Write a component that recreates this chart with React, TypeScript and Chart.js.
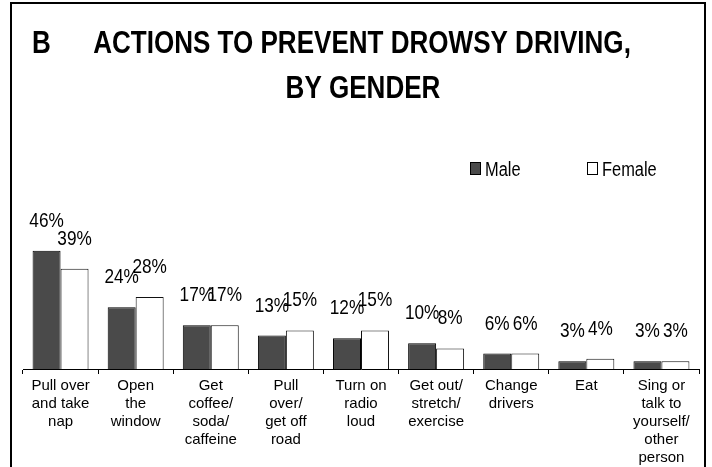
import React, { useEffect, useRef } from "react";
import { Chart, registerables } from "chart.js";

Chart.register(...registerables);

const categories: string[][] = [
  ["Pull over", "and take", "nap"],
  ["Open", "the", "window"],
  ["Get", "coffee/", "soda/", "caffeine"],
  ["Pull", "over/", "get off", "road"],
  ["Turn on", "radio", "loud"],
  ["Get out/", "stretch/", "exercise"],
  ["Change", "drivers"],
  ["Eat"],
  ["Sing or", "talk to", "yourself/", "other", "person"],
];
const maleValues = [46, 24, 17, 13, 12, 10, 6, 3, 3];
const femaleValues = [39, 28, 17, 15, 15, 8, 6, 4, 3];
const seriesNames = ["Male", "Female"];
const titleLines = ["ACTIONS TO PREVENT DROWSY DRIVING,", "BY GENDER"];
const panelLetter = "B";

const SANS = '"Liberation Sans", Arial, sans-serif';
const NARROW_X = 0.82;

function narrowText(ctx: any, text: string, x: number, y: number, align: string, sx: number = NARROW_X) {
  ctx.save();
  ctx.translate(x, y);
  ctx.scale(sx, 1);
  ctx.textAlign = align;
  ctx.textBaseline = "alphabetic";
  ctx.fillText(text, 0, 0);
  ctx.restore();
}

const decorPlugin = {
  id: "decor",
  afterDraw(chart: any) {
    const ctx = chart.ctx;
    ctx.save();
    // frame
    ctx.strokeStyle = "#000";
    ctx.lineWidth = 2;
    ctx.strokeRect(11, 3, 694, 480);
    // title and panel letter
    ctx.fillStyle = "#000";
    ctx.font = `bold 31px ${SANS}`;
    narrowText(ctx, panelLetter, 32, 53, "left", 0.84);
    narrowText(ctx, titleLines[0], 362, 53, "center", 0.84);
    narrowText(ctx, titleLines[1], 363, 98, "center", 0.84);
    // legend
    const items = [
      { x: 470, text: seriesNames[0], fill: "#4a4a4a" },
      { x: 587, text: seriesNames[1], fill: "#ffffff" },
    ];
    ctx.font = `20px ${SANS}`;
    items.forEach((it) => {
      ctx.fillStyle = it.fill;
      ctx.fillRect(it.x, 162, 10, 12);
      ctx.strokeStyle = "#000";
      ctx.lineWidth = 1;
      ctx.strokeRect(it.x + 0.5, 162.5, 10, 12);
      ctx.fillStyle = "#000";
      narrowText(ctx, it.text, it.x + 15, 176, "left");
    });
    ctx.restore();
  },
  afterDatasetsDraw(chart: any) {
    const ctx = chart.ctx;
    ctx.save();
    ctx.fillStyle = "#000";
    ctx.font = `21px ${SANS}`;
    chart.data.datasets.forEach((ds: any, di: number) => {
      const meta = chart.getDatasetMeta(di);
      meta.data.forEach((el: any, i: number) => {
        narrowText(ctx, `${ds.data[i]}%`, el.x, el.y - 24, "center");
      });
    });
    ctx.restore();
  },
};

export default function App() {
  const ref = useRef<HTMLCanvasElement>(null);
  useEffect(() => {
    if (!ref.current) return;
    const chart = new Chart(ref.current, {
      type: "bar",
      data: {
        labels: categories,
        datasets: [
          {
            label: seriesNames[0],
            data: maleValues,
            backgroundColor: "#4a4a4a",
            borderColor: "#000",
            borderWidth: 1,
            categoryPercentage: 0.745,
            barPercentage: 1,
          },
          {
            label: seriesNames[1],
            data: femaleValues,
            backgroundColor: "#ffffff",
            borderColor: "#111",
            borderWidth: 1,
            categoryPercentage: 0.745,
            barPercentage: 1,
          },
        ],
      },
      options: {
        responsive: false,
        animation: false,
        layout: { padding: { left: 23, right: 13, top: 240.5, bottom: -3 } },
        plugins: {
          legend: { display: false },
          tooltip: { enabled: false },
          title: { display: false },
        },
        scales: {
          y: { display: false, min: 0, max: 50 },
          x: {
            grid: {
              drawOnChartArea: false,
              drawTicks: true,
              tickLength: 5,
              color: "#000",
            },
            border: { display: true, color: "#000", width: 1 },
            ticks: {
              color: "#000",
              autoSkip: false,
              maxRotation: 0,
              padding: 3,
              font: { family: SANS, size: 15, lineHeight: 1.2 },
            },
          },
        },
      },
      plugins: [decorPlugin],
    });
    return () => chart.destroy();
  }, []);
  return (
    <div style={{ position: "fixed", left: 0, top: 0, width: 712, height: 467, background: "#fff" }}>
      <canvas ref={ref} width={712} height={467} />
    </div>
  );
}
